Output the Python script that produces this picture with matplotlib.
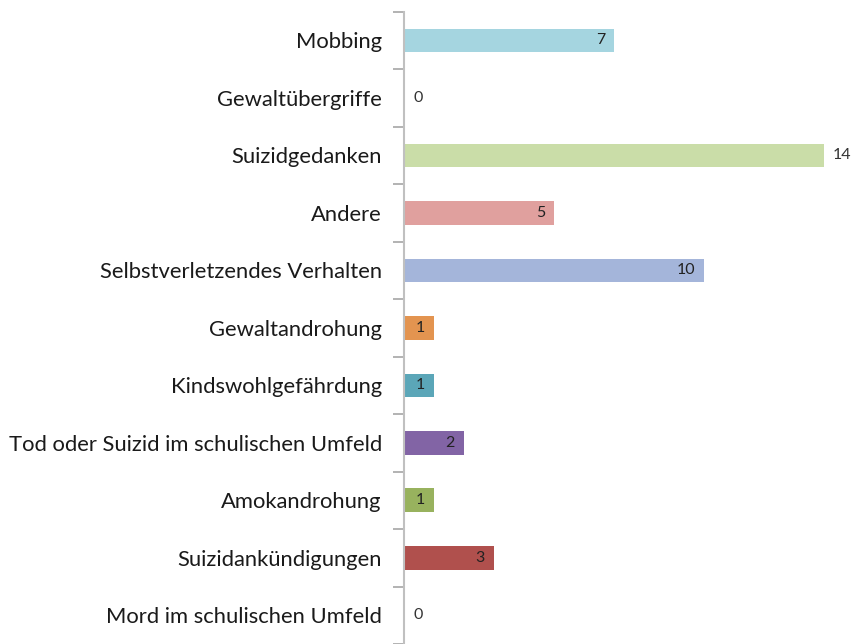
import numpy as np
import matplotlib.pyplot as plt

kategorien = ['Mobbing', 'Gewaltübergriffe', 'Suizidgedanken', 'Andere',
              'Selbstverletzendes Verhalten', 'Gewaltandrohung',
              'Kindswohlgefährdung', 'Tod oder Suizid im schulischen Umfeld',
              'Amokandrohung', 'Suizidankündigungen', 'Mord im schulischen Umfeld']
anzahl = [7, 0, 14, 5, 10, 1, 1, 2, 1, 3, 0]
farben = ['#A5D5E0', '#E8E8E8', '#CADDA8', '#E0A09E', '#A4B5DA', '#E39450',
          '#5BA6B8', '#8264A5', '#98B25E', '#B0504D', '#E8E8E8']

plt.rcParams['font.family'] = ['Lato', 'DejaVu Sans']

fig = plt.figure(figsize=(8.51, 6.44), dpi=100)
ax = fig.add_axes([404 / 851, 0, 1 - 404 / 851, (644 - 11.6) / 644])

y = np.arange(len(kategorien))
bars = ax.barh(y, anzahl, height=0.41, color=farben)

ax.set_xlim(0, 14.9)
ax.set_ylim(-0.5 + (644 - 11.6) / 57.9, -0.5)

ax.set_yticks(y)
ax.set_yticklabels(kategorien, fontsize=15.8, color='#1a1a1a')
ax.tick_params(axis='y', which='major', length=0, pad=16)
ax.set_yticks(np.arange(-0.5, 11, 1), minor=True)
ax.tick_params(axis='y', which='minor', length=8, width=1.2, color='#A6A6A6')
ax.set_xticks([])

for s in ['top', 'right', 'bottom']:
    ax.spines[s].set_visible(False)
ax.spines['left'].set_color('#C0C0C0')
ax.spines['left'].set_linewidth(1.5)

# Datenbeschriftungen
for yi, v in zip(y, anzahl):
    if v == 0 or v == 14:
        ax.text(v + 0.3, yi, str(v), va='center', ha='left', fontsize=11.5, color='#333333')
    else:
        ax.text(v - 0.3, yi, str(v), va='center', ha='right', fontsize=11.5, color='#222222')

fig.savefig('out.png', dpi=100)
